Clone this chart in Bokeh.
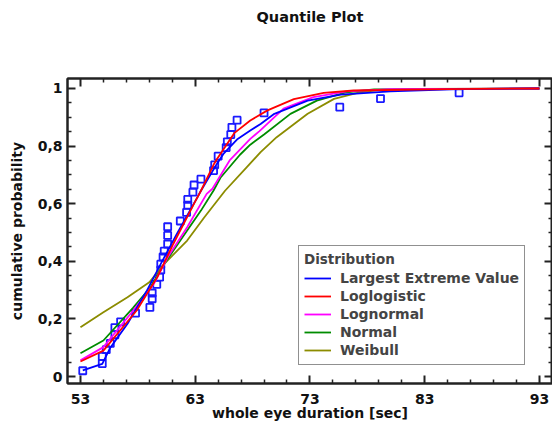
from bokeh.plotting import figure
from bokeh.models import (LinearAxis, FixedTicker, CustomJSTickFormatter, Legend,
                          LegendItem, Range1d)
from bokeh.embed import file_html
from bokeh.resources import INLINE

# ---- data ----
obs_x = [53.2, 54.9, 54.9, 55.25, 55.6, 56.0, 56.0, 56.5, 57.8, 59.05, 59.25, 59.25,
         59.65, 59.9, 60.0, 60.0, 60.2, 60.3, 60.6, 60.6, 60.6, 61.7, 62.25, 62.35,
         62.35, 62.8, 62.9, 63.5, 64.6, 64.7, 65.0, 65.7, 65.8, 66.1, 66.2, 66.65,
         69.0, 75.6, 79.15, 86.0]
obs_y = [0.02, 0.045, 0.07, 0.093, 0.115, 0.145, 0.17, 0.19, 0.22, 0.24, 0.27, 0.29,
         0.32, 0.345, 0.37, 0.39, 0.415, 0.435, 0.46, 0.49, 0.52, 0.54, 0.57, 0.595,
         0.615, 0.64, 0.665, 0.685, 0.715, 0.735, 0.765, 0.795, 0.815, 0.84, 0.865, 0.89,
         0.915, 0.935, 0.965, 0.985]

lev_x = [53.2, 54.9, 55.6, 57.1, 58.8, 60.0, 61.4, 63.2, 63.5, 64.9, 65.5, 66.7, 67.8,
         68.7, 69.9, 72.8, 75.7, 80.0, 86.0, 93.0]
lev_y = [0.021, 0.044, 0.10, 0.183, 0.299, 0.391, 0.495, 0.623, 0.645, 0.739, 0.775,
         0.825, 0.854, 0.877, 0.912, 0.958, 0.979, 0.99, 0.998, 1.0]

llog_x = [53.0, 55.0, 57.9, 59.7, 61.1, 62.9, 63.5, 64.6, 64.9, 66.4, 67.8, 69.3, 71.6,
          74.2, 76.8, 85.0, 93.0]
llog_y = [0.052, 0.09, 0.229, 0.345, 0.461, 0.60, 0.645, 0.735, 0.755, 0.845, 0.889,
          0.924, 0.963, 0.985, 0.993, 0.998, 1.0]

lnorm_x = [53.0, 55.0, 57.6, 59.4, 60.6, 62.3, 64.0, 64.5, 66.0, 67.8, 68.6, 70.7, 73.3,
           76.2, 80.0, 93.0]
lnorm_y = [0.056, 0.102, 0.229, 0.322, 0.414, 0.518, 0.634, 0.652, 0.75, 0.825, 0.852,
           0.93, 0.97, 0.99, 0.998, 1.0]

norm_x = [53.0, 55.0, 57.6, 59.1, 60.3, 61.7, 63.5, 64.6, 65.2, 66.9, 67.8, 69.0, 71.3,
          73.6, 76.2, 78.6, 93.0]
norm_y = [0.081, 0.125, 0.239, 0.31, 0.391, 0.472, 0.576, 0.646, 0.69, 0.77, 0.805,
          0.84, 0.912, 0.958, 0.987, 0.997, 1.0]

weib_x = [53.0, 55.0, 57.1, 59.0, 60.3, 62.3, 63.8, 65.6, 67.5, 68.7, 70.1, 72.8, 75.1,
          77.4, 79.1, 82.0, 93.0]
weib_y = [0.171, 0.223, 0.275, 0.327, 0.391, 0.472, 0.553, 0.645, 0.727, 0.779, 0.831,
          0.912, 0.964, 0.987, 0.995, 0.999, 1.0]

x_major = [53, 63, 73, 83, 93]
x_minor = [55, 57, 59, 61, 65, 67, 69, 71, 75, 77, 79, 81, 85, 87, 89, 91]
y_major = [0, 0.2, 0.4, 0.6, 0.8, 1.0]
y_minor = [0.05, 0.1, 0.15, 0.25, 0.3, 0.35, 0.45, 0.5, 0.55, 0.65, 0.7, 0.75,
           0.85, 0.9, 0.95]

FONT = "DejaVu Sans"

p = figure(width=552, height=432, output_backend="svg", toolbar_location=None,
           x_range=Range1d(51.87, 94.14), y_range=Range1d(-0.0243, 1.0347),
           min_border_left=67, min_border_right=0, min_border_top=78,
           min_border_bottom=49)
p.grid.visible = False
p.outline_line_color = "#222222"
p.outline_line_width = 2
p.background_fill_color = "white"
p.border_fill_color = "white"

xt = FixedTicker(ticks=x_major, minor_ticks=x_minor)
yt = FixedTicker(ticks=y_major, minor_ticks=y_minor)
yfmt = CustomJSTickFormatter(code="const s = (Math.round(tick*10)/10).toString(); return s.replace('.', ',');")


def style(ax):
    ax.axis_line_color = "#222222"
    ax.axis_line_width = 2
    ax.major_tick_in = 8
    ax.major_tick_out = 0
    ax.minor_tick_in = 4
    ax.minor_tick_out = 0
    ax.major_tick_line_width = 2
    ax.minor_tick_line_width = 1.5
    ax.major_tick_line_color = "#222222"
    ax.minor_tick_line_color = "#222222"
    ax.major_label_text_font = FONT
    ax.major_label_text_font_style = "bold"
    ax.major_label_text_font_size = "14px"
    ax.major_label_text_color = "#111111"
    ax.axis_label_text_font = FONT
    ax.axis_label_text_font_style = "bold"
    ax.axis_label_text_font_size = "14px"
    ax.axis_label_text_color = "#111111"


xa = p.xaxis[0]
xa.ticker = xt
xa.axis_label = "whole eye duration [sec]"
xa.major_label_standoff = 10
xa.axis_label_standoff = -2
style(xa)

ya = p.yaxis[0]
ya.ticker = yt
ya.formatter = yfmt
ya.axis_label = "cumulative probability"
ya.major_label_standoff = 5
ya.axis_label_standoff = 10
style(ya)

# top axis: mirrored ticks, carries the chart title as its label
top = LinearAxis(ticker=xt, formatter=CustomJSTickFormatter(code="return '';"),
                 major_label_standoff=0, axis_label="Quantile Plot")
style(top)
top.axis_label_text_font_size = "14.5px"
top.axis_label_standoff = 54
p.add_layout(top, "above")
right = LinearAxis(ticker=yt, formatter=CustomJSTickFormatter(code="return '';"),
                   major_label_standoff=0)
style(right)
p.add_layout(right, "right")

p.scatter(obs_x, obs_y, marker="square", size=7, fill_color=None,
          line_color="#1a1aff", line_width=1.8)

lw = 1.8
r_weib = p.line(weib_x, weib_y, line_color="#8c8c00", line_width=lw)
r_norm = p.line(norm_x, norm_y, line_color="#008c00", line_width=lw)
r_lnorm = p.line(lnorm_x, lnorm_y, line_color="#ff00ff", line_width=lw)
r_lev = p.line(lev_x, lev_y, line_color="#0000ff", line_width=lw)
r_llog = p.line(llog_x, llog_y, line_color="#ff0000", line_width=lw)

legend = Legend(items=[
    LegendItem(label="Largest Extreme Value", renderers=[r_lev]),
    LegendItem(label="Loglogistic", renderers=[r_llog]),
    LegendItem(label="Lognormal", renderers=[r_lnorm]),
    LegendItem(label="Normal", renderers=[r_norm]),
    LegendItem(label="Weibull", renderers=[r_weib]),
], title="Distribution", location=(231, 18))
legend.border_line_color = "#222222"
legend.border_line_width = 1.5
legend.background_fill_color = "white"
legend.background_fill_alpha = 1
legend.padding = 5
legend.spacing = 0
legend.margin = 0
legend.glyph_width = 27
legend.glyph_height = 18
legend.label_height = 18
legend.label_standoff = 9
legend.label_text_font = FONT
legend.label_text_font_style = "bold"
legend.label_text_font_size = "14px"
legend.title_text_font = FONT
legend.title_text_font_style = "bold"
legend.title_text_font_size = "13.5px"
legend.title_standoff = 2
p.add_layout(legend, "center")

open("out.html", "w").write(file_html(p, INLINE))
